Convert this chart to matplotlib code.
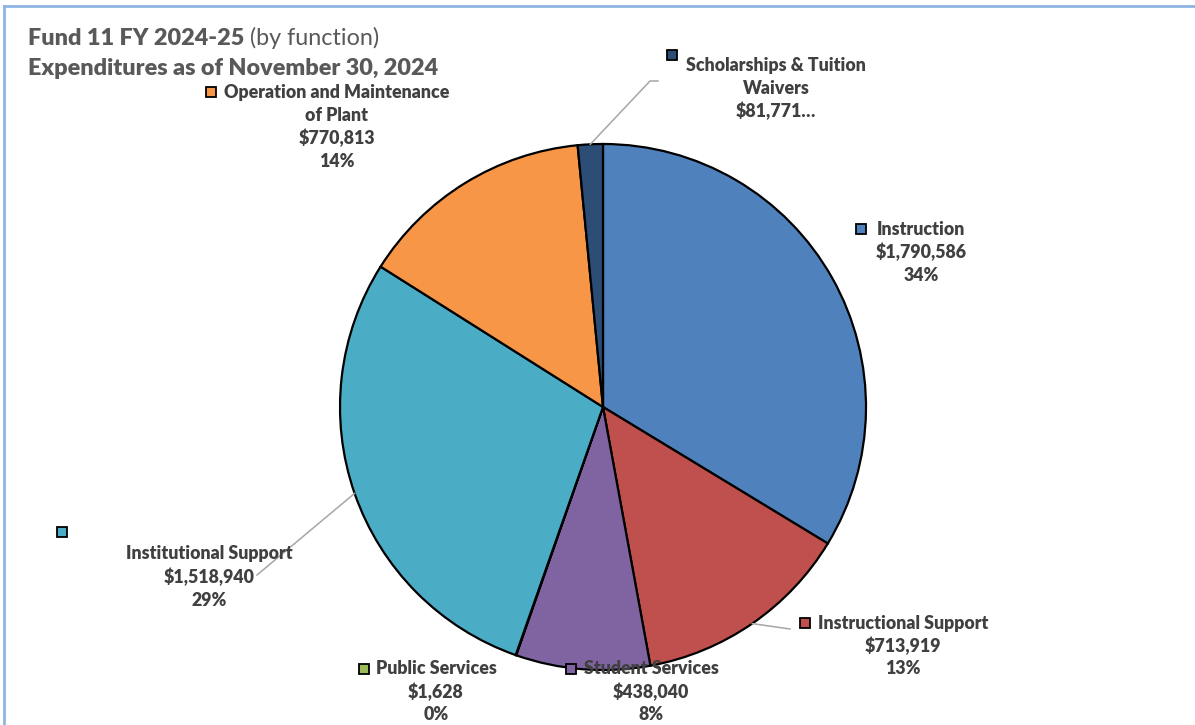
import numpy as np
import matplotlib.pyplot as plt

# data
categories = ["Instruction", "Instructional Support", "Student Services", "Public Services",
              "Institutional Support", "Operation and Maintenance\nof Plant",
              "Scholarships & Tuition\nWaivers"]
values = [1790586, 713919, 438040, 1628, 1518940, 770813, 81771]
money_labels = ["$1,790,586", "$713,919", "$438,040", "$1,628", "$1,518,940", "$770,813", "$81,771\u2026"]
pct_labels = ["34%", "13%", "8%", "0%", "29%", "14%", ""]
colors = ["#4F81BD", "#C0504D", "#8064A2", "#9BBB59", "#4BACC6", "#F79646", "#2C4D75"]

W, H = 1195, 725
fig = plt.figure(figsize=(W / 100, H / 100), dpi=100)
ax = fig.add_axes([0, 0, 1, 1])

def Y(y):  # pixel row -> data y
    return H - y

cx, cy, r = 603, 407, 263
wedges, _ = ax.pie(values, colors=colors, startangle=90, counterclock=False,
                   center=(cx, Y(cy)), radius=r, frame=True,
                   wedgeprops=dict(edgecolor="black", linewidth=1.6))
ax.set_xlim(0, W)
ax.set_ylim(0, H)
ax.set_aspect("equal")
ax.axis("off")

txt = dict(family="Lato", weight="heavy", fontsize=12.8, color="#404040")

# label layout: (marker x, marker y, text centre x, first line y)
label_pos = [
    (861, 229, 921, 229),
    (805, 623, 903, 623),
    (571, 669, 651, 669),
    (364, 669, 436, 669),
    (62, 532, 209, 554),
    (211, 92, 337, 92),
    (672, 55, 776, 65),
]
step = 23
for i, (mx, my, tx, ty) in enumerate(label_pos):
    lines = categories[i].split("\n") + [money_labels[i]]
    if pct_labels[i]:
        lines.append(pct_labels[i])
    for k, s in enumerate(lines):
        ax.text(tx, Y(ty + k * step), s, ha="center", va="center", **txt)
    ax.add_patch(plt.Rectangle((mx - 5, Y(my) - 5), 10, 10, facecolor=colors[i],
                               edgecolor="black", linewidth=1.3, zorder=5))

# leader lines from wedge middles
def mid_point(w):
    a = np.deg2rad((w.theta1 + w.theta2) / 2)
    return cx + r * np.cos(a), Y(cy) + r * np.sin(a)

leaders = {6: [(650, 81), (658, 81)], 4: [(257, 575)], 1: [(790, 629)]}
for i, pts in leaders.items():
    x0, y0 = mid_point(wedges[i])
    xs = [x0] + [p[0] for p in pts]
    ys = [y0] + [Y(p[1]) for p in pts]
    ax.plot(xs, ys, color="#A6A6A6", linewidth=1.1, zorder=1)

# title
t1 = ax.text(28, Y(38), "Fund 11 FY 2024-25", family="Lato", weight="heavy",
             fontsize=16.8, color="#595959", va="center", ha="left")
ax.annotate(" (by function)", xy=(1, 0), xycoords=t1, va="bottom", ha="left",
            family="Lato", fontsize=16.8, color="#595959")
ax.text(28, Y(68), "Expenditures as of November 30, 2024", family="Lato", weight="heavy",
        fontsize=16.8, color="#595959", va="center", ha="left")

# frame
ax.plot([4, W], [Y(6), Y(6)], color="#8EB4E3", linewidth=2, clip_on=False)
ax.plot([4, 4], [Y(6), 0], color="#8EB4E3", linewidth=2, clip_on=False)

fig.savefig("out.png", dpi=100)
